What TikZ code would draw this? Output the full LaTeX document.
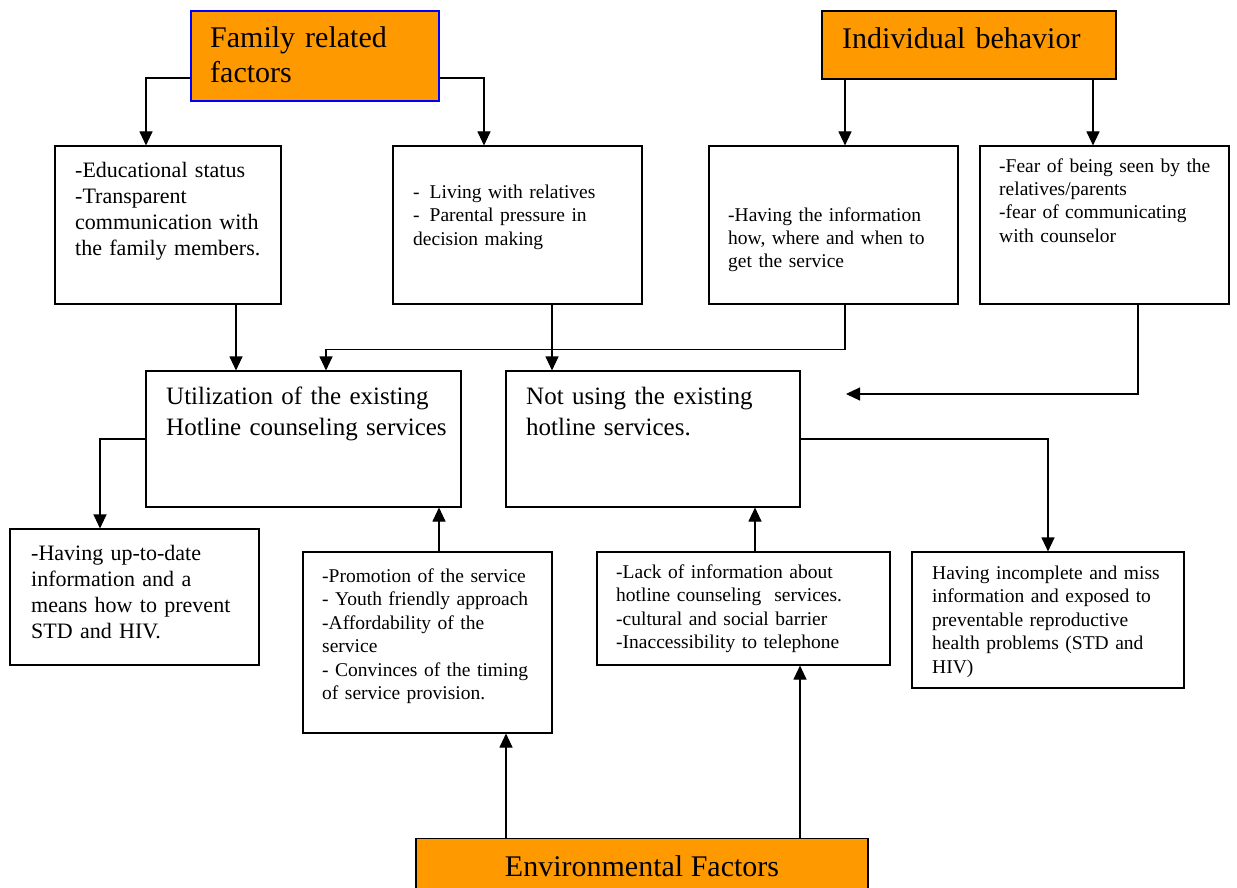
\documentclass[tikz,border=0pt]{standalone}
\usepackage{fontspec}
\setmainfont{Liberation Serif}
\usepackage{tikz}
\usetikzlibrary{arrows.meta}
\definecolor{boxorange}{HTML}{FF9900}
\definecolor{boxblue}{HTML}{0000FF}

\begin{document}
\begin{tikzpicture}[x=1pt,y=-1pt,
  box/.style={draw,line width=1.1pt,inner sep=0pt},
  head/.style={box,fill=boxorange},
  arr/.style={line width=1.1pt,-{Triangle[length=14pt,width=13pt]}},
  txt/.style={anchor=base west,inner sep=0pt,align=left,text width=#1},
  huge/.style={font=\fontsize{30}{34.5}\selectfont},
  big/.style={font=\fontsize{25}{31}\selectfont},
  mid/.style={font=\fontsize{22}{26}\selectfont},
  small/.style={font=\fontsize{19.5}{23.5}\selectfont}]
\useasboundingbox (0,0) rectangle (1237,888);
\node[head,draw=boxblue,minimum width=248pt,minimum height=90pt] (family) at (315,56) {};
\node[head,minimum width=294pt,minimum height=68pt] (ind) at (969,45) {};
\node[box,minimum width=226pt,minimum height=158pt] (edu) at (168,225) {};
\node[box,minimum width=249pt,minimum height=158pt] (living) at (517.5,225) {};
\node[box,minimum width=249pt,minimum height=158pt] (info) at (833.5,225) {};
\node[box,minimum width=249pt,minimum height=158pt] (fear) at (1104.5,225) {};
\node[box,minimum width=315pt,minimum height=136pt] (util) at (303.5,439) {};
\node[box,minimum width=294pt,minimum height=136pt] (notusing) at (653,439) {};
\node[box,minimum width=249pt,minimum height=136pt] (uptodate) at (134.5,597) {};
\node[box,minimum width=249pt,minimum height=181pt] (promotion) at (427.5,642.5) {};
\node[box,minimum width=293pt,minimum height=113pt] (lack) at (743.5,608.5) {};
\node[box,minimum width=272pt,minimum height=136pt] (incomplete) at (1048,620) {};
\node[head,huge,anchor=north,minimum width=452pt,minimum height=56pt] (env) at (642,838) {Environmental Factors};

\node[txt=220pt,huge] (familyTxt) at (210,48) {Family related\\factors};
\node[txt=260pt,huge] (indTxt) at (842,49) {Individual behavior};
\node[txt=210pt,mid] (eduTxt) at (75,177) {-Educational status\\-Transparent\\communication with\\the family members.};
\node[txt=230pt,small] (livingTxt) at (413,198) {-\hspace{10pt}Living with relatives\\-\hspace{10pt}Parental pressure in\\decision making};
\node[txt=230pt,small] (infoTxt) at (728,221) {-Having the information\\how, where and when to\\get the service};
\node[txt=230pt,small] (fearTxt) at (999,172) {-Fear of being seen by the\\relatives/parents\\-fear of communicating\\with counselor};
\node[txt=290pt,big] (utilTxt) at (166,404) {Utilization of the existing\\Hotline counseling services};
\node[txt=270pt,big] (notusingTxt) at (526,404) {Not using the existing\\hotline services.};
\node[txt=230pt,mid] (uptodateTxt) at (31,560) {-Having up-to-date\\information and a\\means how to prevent\\STD and HIV.};
\node[txt=230pt,small] (promotionTxt) at (322,582) {-Promotion of the service\\- Youth friendly approach\\-Affordability of the\\service\\- Convinces of the timing\\of service provision.};
\node[txt=270pt,small] (lackTxt) at (616,578) {-Lack of information about\\hotline counseling\ \ services.\\-cultural and social barrier\\-Inaccessibility to telephone};
\node[txt=250pt,small] (incompleteTxt) at (932,579) {Having incomplete and miss\\information and exposed to\\preventable reproductive\\health problems (STD and\\HIV)};

\coordinate (fearEnd) at (846,394);
\draw[arr] ([yshift=-22pt]family.west) -| ([xshift=-22pt]edu.north);
\draw[arr] ([yshift=-22pt]family.east) -| ([xshift=-33.5pt]living.north);
\draw[arr] ([xshift=-124pt]ind.south) -- ([xshift=11.5pt]info.north);
\draw[arr] ([xshift=124pt]ind.south) -- ([xshift=-11.5pt]fear.north);
\draw[arr] ([xshift=68pt]edu.south) -- ([xshift=-67.5pt]util.north);
\draw[arr] ([xshift=34.5pt]living.south) -- ([xshift=-101pt]notusing.north);
\draw[arr] ([xshift=11.5pt]info.south) -- ++(0,45) -| ([xshift=22.5pt]util.north);
\draw[arr] ([xshift=33.5pt]fear.south) |- (fearEnd);
\draw[arr] (util.west) -| ([xshift=-34.5pt]uptodate.north);
\draw[arr] (notusing.east) -| (incomplete.north);
\draw[arr] ([xshift=11.5pt]promotion.north) -- ([xshift=135.5pt]util.south);
\draw[arr] ([xshift=11.5pt]lack.north) -- ([xshift=102pt]notusing.south);
\draw[arr] ([xshift=-136pt]env.north) -- ([xshift=78.5pt]promotion.south);
\draw[arr] ([xshift=158pt]env.north) -- ([xshift=56.5pt]lack.south);
\end{tikzpicture}
\end{document}
